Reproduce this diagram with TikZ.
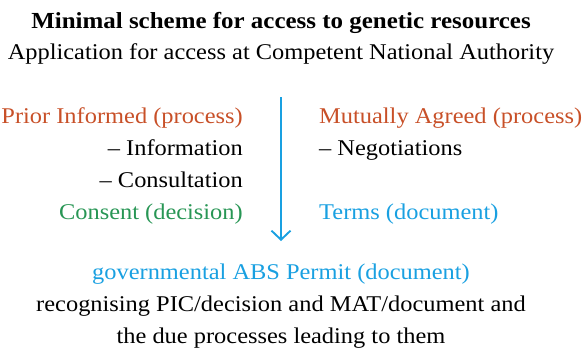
\documentclass[tikz,border=0pt]{standalone}
\usepackage{fontspec}
\setmainfont{Liberation Serif}[FakeStretch=1.085]
\usetikzlibrary{arrows.meta}
\definecolor{picorange}{RGB}{200,80,40}
\definecolor{picgreen}{RGB}{40,150,85}
\definecolor{picblue}{RGB}{25,160,225}
\tikzset{
  txt/.style={inner sep=0pt,font=\fontsize{22.5}{26}\selectfont},
  lcol/.style={txt,anchor=base east},
  rcol/.style={txt,anchor=base west},
  mid/.style={txt,anchor=base}
}

\begin{document}
\begin{tikzpicture}[x=1pt,y=-1pt]
	\useasboundingbox (0,0) rectangle (582,354);
	% Heading
	\node[mid,font=\fontsize{23}{26}\selectfont\bfseries] (title) at (281,28) {Minimal scheme for access to genetic resources};
	\node[mid] (appl) at (281,59) {Application for access at Competent National Authority};
	
	% Flow
	\coordinate (top) at (281,97);
	\coordinate (bot) at (281,241);
	\draw[picblue, line width=1.9pt, -{Straight Barb[length=9pt,width=19pt,line width=1.9pt]}] (top) -- (bot);
	
	% Left column
	\node[lcol,picorange] (pi) at (243,123) {Prior Informed (process)};
	\node[lcol] (info) at (243,155) {– Information};
	\node[lcol] (cons) at (243,187) {– Consultation};
	\node[lcol,picgreen] (cnst) at (243,219) {Consent (decision)};
	
	% Right column
	\node[rcol,picorange] (ma) at (319,123) {Mutually Agreed (process)};
	\node[rcol] (nego) at (319,155) {– Negotiations};
	\node[rcol,picblue] (terms) at (319,219) {Terms (document)};
	
	% Result
	\node[mid,picblue] (permit) at (281,279) {governmental ABS Permit (document)};
	\node[mid] (recog) at (281,311) {recognising PIC/decision and MAT/document and};
	\node[mid] (due) at (281,343) {the due processes leading to them};
\end{tikzpicture}
\end{document}
